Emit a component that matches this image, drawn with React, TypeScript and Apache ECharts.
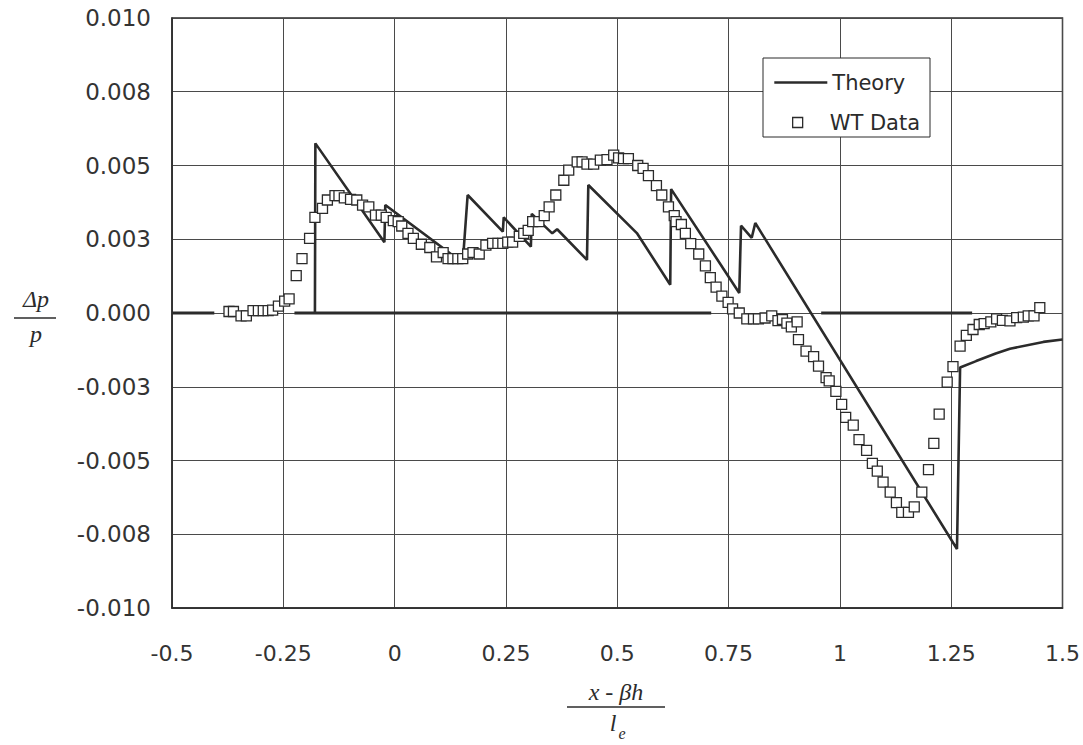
import React, { useEffect, useRef } from "react";
import * as echarts from "echarts";

// Axis ticks
const xMin = -0.5;
const xMax = 1.5;
const xInterval = 0.25;
const xTickLabels = ["-0.5", "-0.25", "0", "0.25", "0.5", "0.75", "1", "1.25", "1.5"];

const yMin = -0.01;
const yMax = 0.01;
const yInterval = 0.0025;
const yTickLabels = ["-0.010", "-0.008", "-0.005", "-0.003", "0.000", "0.003", "0.005", "0.008", "0.010"];

// Theory curve (x, Δp/p)
const theoryPoints: [number, number][] = [
  [-0.179, 0], [-0.178, 0.00575], [-0.023, 0.0024], [-0.021, 0.00366],
  [0.153, 0.0017], [0.164, 0.004], [0.243, 0.00276], [0.245, 0.00324],
  [0.306, 0.00225], [0.308, 0.00336], [0.354, 0.0027], [0.365, 0.00284],
  [0.432, 0.0018], [0.435, 0.00434], [0.544, 0.00271], [0.619, 0.00096],
  [0.621, 0.0042], [0.774, 0.00068], [0.778, 0.00296], [0.802, 0.00255],
  [0.81, 0.00305], [1.263, -0.008], [1.27, -0.00185], [1.306, -0.00163],
  [1.35, -0.00137], [1.382, -0.00121], [1.457, -0.00098], [1.5, -0.0009],
];

// Zero (ambient) reference line drawn with the theory, with its gaps
const baselinePoints: (number | string)[][] = [
  [-0.5, 0], [-0.405, 0], [-0.3, "-"], [-0.225, 0], [0.711, 0], [0.8, "-"], [0.958, 0], [1.297, 0],
];

// Wind-tunnel data (x, Δp/p)
const wtDataPoints: [number, number][] = [
  [-0.372, 0.00005], [-0.362, 0.00005], [-0.345, -0.0001], [-0.333, -0.0001],
  [-0.318, 0.00008], [-0.306, 0.00008], [-0.295, 0.00008], [-0.284, 0.00008],
  [-0.274, 0.0001], [-0.261, 0.00023], [-0.247, 0.0004], [-0.237, 0.00048],
  [-0.221, 0.00127], [-0.208, 0.00184], [-0.191, 0.00253], [-0.179, 0.00324],
  [-0.162, 0.00355], [-0.151, 0.00383], [-0.134, 0.00398], [-0.125, 0.00398],
  [-0.113, 0.0039], [-0.099, 0.00385], [-0.085, 0.00383], [-0.072, 0.00366],
  [-0.058, 0.0036], [-0.043, 0.00332], [-0.03, 0.00332], [-0.019, 0.00324],
  [-0.003, 0.00313], [0.008, 0.0031], [0.016, 0.00295], [0.03, 0.0027],
  [0.042, 0.00253], [0.06, 0.00233], [0.079, 0.00222], [0.094, 0.0019],
  [0.109, 0.00205], [0.12, 0.00184], [0.131, 0.00184], [0.142, 0.00184],
  [0.153, 0.00184], [0.164, 0.002], [0.176, 0.00205], [0.19, 0.002],
  [0.205, 0.0023], [0.22, 0.00236], [0.232, 0.00236], [0.243, 0.00236],
  [0.254, 0.0024], [0.265, 0.0024], [0.28, 0.0026], [0.29, 0.0027],
  [0.3, 0.0028], [0.31, 0.0031], [0.324, 0.0031], [0.336, 0.0033],
  [0.347, 0.0036], [0.362, 0.004], [0.38, 0.0045], [0.391, 0.00484],
  [0.41, 0.00512], [0.421, 0.00512], [0.432, 0.00505], [0.447, 0.00505],
  [0.462, 0.00518], [0.477, 0.0052], [0.492, 0.00535], [0.503, 0.00526],
  [0.514, 0.00523], [0.525, 0.00523], [0.546, 0.005], [0.558, 0.0049],
  [0.57, 0.00466], [0.588, 0.00432], [0.6, 0.004], [0.615, 0.0036],
  [0.628, 0.0033], [0.632, 0.0031], [0.644, 0.003], [0.653, 0.0027],
  [0.665, 0.00235], [0.683, 0.002], [0.698, 0.0016], [0.709, 0.0012],
  [0.722, 0.00088], [0.735, 0.00057], [0.749, 0.00036], [0.759, 0.00014],
  [0.774, 0.0], [0.791, -0.0002], [0.806, -0.0002], [0.817, -0.0002],
  [0.832, -0.00017], [0.847, -0.0001], [0.861, -0.00026], [0.871, -0.00022],
  [0.881, -0.00034], [0.891, -0.00047], [0.904, -0.0003], [0.907, -0.0009],
  [0.924, -0.00129], [0.941, -0.00148], [0.952, -0.0018], [0.969, -0.00219],
  [0.976, -0.0023], [0.991, -0.00266], [1.004, -0.0031], [1.013, -0.00354],
  [1.03, -0.0038], [1.043, -0.00429], [1.06, -0.00466], [1.073, -0.0051],
  [1.084, -0.00536], [1.097, -0.00573], [1.113, -0.00607], [1.127, -0.00643],
  [1.139, -0.00676], [1.154, -0.00676], [1.167, -0.00657], [1.184, -0.00607],
  [1.199, -0.00531], [1.211, -0.00442], [1.223, -0.00343], [1.241, -0.00234],
  [1.254, -0.00182], [1.27, -0.00112], [1.284, -0.00076], [1.299, -0.00056],
  [1.313, -0.00039], [1.324, -0.00036], [1.339, -0.0003], [1.352, -0.0002],
  [1.365, -0.00025], [1.382, -0.00027], [1.397, -0.00016], [1.412, -0.00014],
  [1.423, -0.0001], [1.436, -0.0001], [1.449, 0.00018],
];

const INK = "#2b2b2b";
const GRID = "#4a4a4a";
const SANS = "'DejaVu Sans', 'Liberation Sans', Arial, sans-serif";
const SERIF = "'Liberation Serif', 'DejaVu Serif', serif";

export default function App() {
  const ref = useRef<HTMLDivElement | null>(null);

  useEffect(() => {
    if (!ref.current) return;
    const chart = echarts.init(ref.current, null, { renderer: "svg" });

    const option: any = {
      animation: false,
      backgroundColor: "#ffffff",
      grid: {
        left: 172,
        right: 15,
        top: 18,
        bottom: 137,
        show: true,
        borderColor: INK,
        borderWidth: 1.5,
        backgroundColor: "transparent",
      },
      xAxis: {
        type: "value",
        min: xMin,
        max: xMax,
        interval: xInterval,
        axisLine: { show: true, onZero: false, lineStyle: { color: INK, width: 1.5 } },
        axisTick: { show: false },
        splitLine: { show: true, lineStyle: { color: GRID, width: 1 } },
        axisLabel: {
          margin: 34,
          fontSize: 22,
          fontFamily: SANS,
          color: "#333",
          formatter: (v: number) => xTickLabels[Math.round((v - xMin) / xInterval)] ?? "",
        },
      },
      yAxis: {
        type: "value",
        min: yMin,
        max: yMax,
        interval: yInterval,
        axisLine: { show: true, onZero: false, lineStyle: { color: INK, width: 1.5 } },
        axisTick: { show: false },
        splitLine: { show: true, lineStyle: { color: GRID, width: 1 } },
        axisLabel: {
          margin: 21,
          fontSize: 23,
          fontFamily: SANS,
          color: "#333",
          formatter: (v: number) => yTickLabels[Math.round((v - yMin) / yInterval)] ?? "",
        },
      },
      legend: [
        {
          data: ["Theory"],
          left: 773,
          top: 72,
          padding: 0,
          itemWidth: 53,
          itemHeight: 16,
          itemGap: 0,
          selectedMode: false,
          z: 10,
          itemStyle: { color: "rgba(0,0,0,0)", borderWidth: 0, opacity: 0 },
          lineStyle: { color: INK, width: 2.6, opacity: 1 },
          textStyle: { fontSize: 21, fontFamily: SANS, color: INK },
        },
        {
          data: [{ name: "WT Data", icon: "rect" }],
          left: 792,
          top: 112,
          padding: 0,
          itemWidth: 10,
          itemHeight: 10,
          selectedMode: false,
          z: 10,
          itemStyle: { color: "#ffffff", borderColor: INK, borderWidth: 1.3 },
          textStyle: { fontSize: 21, fontFamily: SANS, color: INK, padding: [0, 0, 0, 22] },
        },
      ],
      graphic: [
        {
          type: "rect",
          z: 8,
          shape: { x: 763, y: 58, width: 167, height: 79 },
          style: { fill: "#ffffff", stroke: INK, lineWidth: 1 },
        },
        // y-axis title: Δp / p
        {
          type: "text",
          x: 36,
          y: 299,
          style: {
            text: "Δp",
            font: `italic 24px ${SERIF}`,
            fill: INK,
            align: "center",
            verticalAlign: "middle",
          },
        },
        {
          type: "line",
          shape: { x1: 14, y1: 318, x2: 56, y2: 318 },
          style: { stroke: INK, lineWidth: 1.5 },
        },
        {
          type: "text",
          x: 36,
          y: 334,
          style: {
            text: "p",
            font: `italic 24px ${SERIF}`,
            fill: INK,
            align: "center",
            verticalAlign: "middle",
          },
        },
        // x-axis title: (x - βh) / l_e
        {
          type: "text",
          x: 616,
          y: 692,
          style: {
            text: "x - βh",
            font: `italic 24px ${SERIF}`,
            fill: INK,
            align: "center",
            verticalAlign: "middle",
          },
        },
        {
          type: "line",
          shape: { x1: 567, y1: 707, x2: 665, y2: 707 },
          style: { stroke: INK, lineWidth: 1.5 },
        },
        {
          type: "text",
          x: 613,
          y: 723,
          style: {
            text: "l",
            font: `italic 24px ${SERIF}`,
            fill: INK,
            align: "center",
            verticalAlign: "middle",
          },
        },
        {
          type: "text",
          x: 622,
          y: 733,
          style: {
            text: "e",
            font: `italic 16px ${SERIF}`,
            fill: INK,
            align: "center",
            verticalAlign: "middle",
          },
        },
      ],
      series: [
        {
          name: "Baseline",
          type: "line",
          data: baselinePoints,
          symbol: "none",
          connectNulls: false,
          lineStyle: { color: INK, width: 2.8 },
          z: 3,
          silent: true,
        },
        {
          name: "Theory",
          type: "line",
          data: theoryPoints,
          symbol: "none",
          lineStyle: { color: INK, width: 2.6 },
          itemStyle: { color: INK },
          z: 3,
        },
        {
          name: "WT Data",
          type: "scatter",
          data: wtDataPoints,
          symbol: "rect",
          symbolSize: 10,
          itemStyle: { color: "#ffffff", borderColor: INK, borderWidth: 1.3, opacity: 1 },
          z: 4,
        },
      ],
    };

    chart.setOption(option);
    return () => chart.dispose();
  }, []);

  return (
    <div
      ref={ref}
      style={{ position: "absolute", left: 0, top: 0, width: 1083, height: 745, background: "#fff" }}
    />
  );
}
